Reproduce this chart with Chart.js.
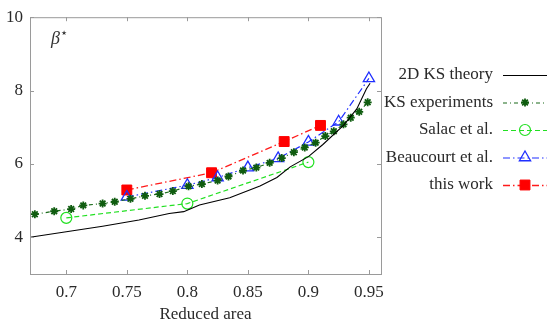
<!DOCTYPE html>
<html>
<head>
<meta charset="utf-8">
<script src="https://cdn.jsdelivr.net/npm/chart.js@4.4.1/dist/chart.umd.min.js"></script>
<style>
  html, body { margin: 0; padding: 0; background: #fff; }
  #wrap { width: 550px; height: 325px; }
</style>
</head>
<body>
<div id="wrap"><canvas id="c" width="550" height="325"></canvas></div>
<script>
// Valeurs (aire réduite -> beta*)
const theoryX = [0.67, 0.70, 0.73, 0.76, 0.785, 0.797, 0.81, 0.835, 0.86, 0.874, 0.885, 0.90, 0.912, 0.929, 0.94, 0.948, 0.951];
const theoryY = [4.00, 4.15, 4.30, 4.47, 4.65, 4.70, 4.88, 5.08, 5.40, 5.63, 5.92, 6.20, 6.53, 7.05, 7.50, 8.05, 8.20];

const ksExpX = [0.674, 0.690, 0.704, 0.714, 0.730, 0.740, 0.753, 0.765, 0.777, 0.788, 0.801, 0.812, 0.825, 0.834, 0.846, 0.857, 0.868, 0.878, 0.888, 0.897, 0.906, 0.914, 0.921, 0.929, 0.935, 0.942, 0.949];
const ksExpY = [4.63, 4.71, 4.77, 4.87, 4.92, 4.97, 5.05, 5.13, 5.18, 5.26, 5.39, 5.45, 5.55, 5.66, 5.82, 5.90, 6.03, 6.16, 6.32, 6.45, 6.58, 6.76, 6.89, 7.08, 7.26, 7.42, 7.68];

const salacX = [0.70, 0.80, 0.90];
const salacY = [4.53, 4.92, 6.05];

const beaucourtX = [0.75, 0.80, 0.825, 0.85, 0.875, 0.90, 0.925, 0.95];
const beaucourtY = [5.10, 5.42, 5.63, 5.90, 6.15, 6.60, 7.15, 8.33];

const thisWorkX = [0.75, 0.82, 0.88, 0.91];
const thisWorkY = [5.29, 5.76, 6.61, 7.05];

const xTicks = [0.7, 0.75, 0.8, 0.85, 0.9, 0.95];
const yTicks = [4, 6, 8, 10];

const FONT = "'Liberation Serif', 'DejaVu Serif', serif";
const TEXT = "#2a2a2a";
const FRAME = "#9a9a9a";

const pts = (xs, ys) => xs.map((x, i) => ({ x, y: ys[i] }));

// Cadre gris + petites graduations vers l'intérieur sur les 4 côtés
const framePlugin = {
  id: "frame",
  afterDatasetsDraw(chart) {
    const { ctx, chartArea: a, scales } = chart;
    ctx.save();
    ctx.strokeStyle = FRAME;
    ctx.lineWidth = 1;
    ctx.strokeRect(a.left + 0.5, a.top + 0.5, a.right - a.left, a.bottom - a.top);
    const len = 4;
    ctx.beginPath();
    xTicks.forEach((v) => {
      const px = Math.round(scales.x.getPixelForValue(v)) + 0.5;
      ctx.moveTo(px, a.bottom); ctx.lineTo(px, a.bottom - len);
      ctx.moveTo(px, a.top); ctx.lineTo(px, a.top + len);
    });
    yTicks.forEach((v) => {
      const py = Math.round(scales.y.getPixelForValue(v)) + 0.5;
      ctx.moveTo(a.left, py); ctx.lineTo(a.left + len, py);
      ctx.moveTo(a.right, py); ctx.lineTo(a.right - len, py);
    });
    ctx.stroke();

    // annotation beta*
    ctx.fillStyle = "#333";
    ctx.font = "italic 18px " + FONT;
    ctx.textBaseline = "alphabetic";
    ctx.fillText("\u03B2", 51, 44);
    ctx.font = "13px " + FONT;
    ctx.fillText("\u22C6", 60, 37);
    ctx.restore();
  },
};

// Légende à droite : texte aligné à droite, échantillon de trait + marqueur
const legendPlugin = {
  id: "sideLegend",
  afterDraw(chart) {
    const { ctx } = chart;
    const textRight = 493, x0 = 503, x1 = 547, top = 75, step = 27.5;
    ctx.save();
    chart.data.datasets.forEach((ds, i) => {
      const y = top + i * step;
      ctx.fillStyle = TEXT;
      ctx.font = "17px " + FONT;
      ctx.textAlign = "right";
      ctx.textBaseline = "middle";
      ctx.fillText(ds.label, textRight, y);
      ctx.strokeStyle = ds.borderColor;
      ctx.lineWidth = ds.borderWidth;
      ctx.setLineDash(ds.borderDash || []);
      ctx.beginPath();
      ctx.moveTo(x0, y + 0.5);
      ctx.lineTo(x1, y + 0.5);
      ctx.stroke();
      ctx.setLineDash([]);
      if (ds.pointRadius > 0) {
        ctx.fillStyle = ds.pointBackgroundColor;
        ctx.strokeStyle = ds.pointBorderColor;
        ctx.lineWidth = ds.pointBorderWidth;
        Chart.helpers.drawPoint(ctx, {
          pointStyle: ds.pointStyle,
          radius: ds.pointRadius,
          rotation: 0,
          borderWidth: ds.pointBorderWidth,
        }, (x0 + x1) / 2, y);
      }
    });
    ctx.restore();
  },
};

new Chart(document.getElementById("c"), {
  type: "line",
  data: {
    datasets: [
      {
        label: "2D KS theory",
        data: pts(theoryX, theoryY),
        borderColor: "#000",
        borderWidth: 1.1,
        pointRadius: 0,
      },
      {
        label: "KS experiments",
        data: pts(ksExpX, ksExpY),
        borderColor: "#1a6b1a",
        borderWidth: 1.2,
        borderDash: [4, 3, 1, 3],
        pointStyle: "star",
        pointRadius: 4,
        pointBorderWidth: 1.8,
        pointBorderColor: "#0f5c0f",
        pointBackgroundColor: "#0f5c0f",
      },
      {
        label: "Salac et al.",
        data: pts(salacX, salacY),
        borderColor: "#22e022",
        borderWidth: 1.2,
        borderDash: [5, 3],
        pointStyle: "circle",
        pointRadius: 5.5,
        pointBorderWidth: 1.2,
        pointBorderColor: "#22e022",
        pointBackgroundColor: "rgba(255,255,255,0)",
      },
      {
        label: "Beaucourt et al.",
        data: pts(beaucourtX, beaucourtY),
        borderColor: "#1f2fff",
        borderWidth: 1.2,
        borderDash: [7, 3, 1.5, 3],
        pointStyle: "triangle",
        pointRadius: 6.5,
        pointBorderWidth: 1.3,
        pointBorderColor: "#1f2fff",
        pointBackgroundColor: "rgba(255,255,255,0)",
      },
      {
        label: "this work",
        data: pts(thisWorkX, thisWorkY),
        borderColor: "#ff1a1a",
        borderWidth: 1.3,
        borderDash: [7, 3, 1.5, 3],
        pointStyle: "rect",
        pointRadius: 7,
        pointBorderWidth: 1,
        pointBorderColor: "#ff0000",
        pointBackgroundColor: "#ff0000",
      },
    ],
  },
  options: {
    responsive: false,
    animation: false,
    layout: { padding: { left: 0, top: 8, right: 169, bottom: 0 } },
    elements: { line: { tension: 0 } },
    scales: {
      x: {
        type: "linear",
        min: 0.67,
        max: 0.96,
        afterBuildTicks: (s) => { s.ticks = xTicks.map((v) => ({ value: v })); },
        afterFit: (s) => { s.height = 51; },
        grid: { display: false, drawTicks: false },
        border: { display: false },
        ticks: {
          padding: 8,
          color: TEXT,
          font: { family: FONT, size: 17 },
          maxRotation: 0,
          callback: (v) => String(+v.toFixed(2)),
        },
        title: {
          display: true,
          text: "Reduced area",
          color: TEXT,
          font: { family: FONT, size: 17 },
          padding: { top: 0, bottom: 0 },
        },
      },
      y: {
        min: 3,
        max: 10,
        afterBuildTicks: (s) => { s.ticks = yTicks.map((v) => ({ value: v })); },
        afterFit: (s) => { s.width = 30; },
        grid: { display: false, drawTicks: false },
        border: { display: false },
        ticks: {
          padding: 7,
          color: TEXT,
          font: { family: FONT, size: 17 },
        },
      },
    },
    plugins: {
      legend: { display: false },
      tooltip: { enabled: false },
    },
  },
  plugins: [framePlugin, legendPlugin],
});
</script>
</body>
</html>
